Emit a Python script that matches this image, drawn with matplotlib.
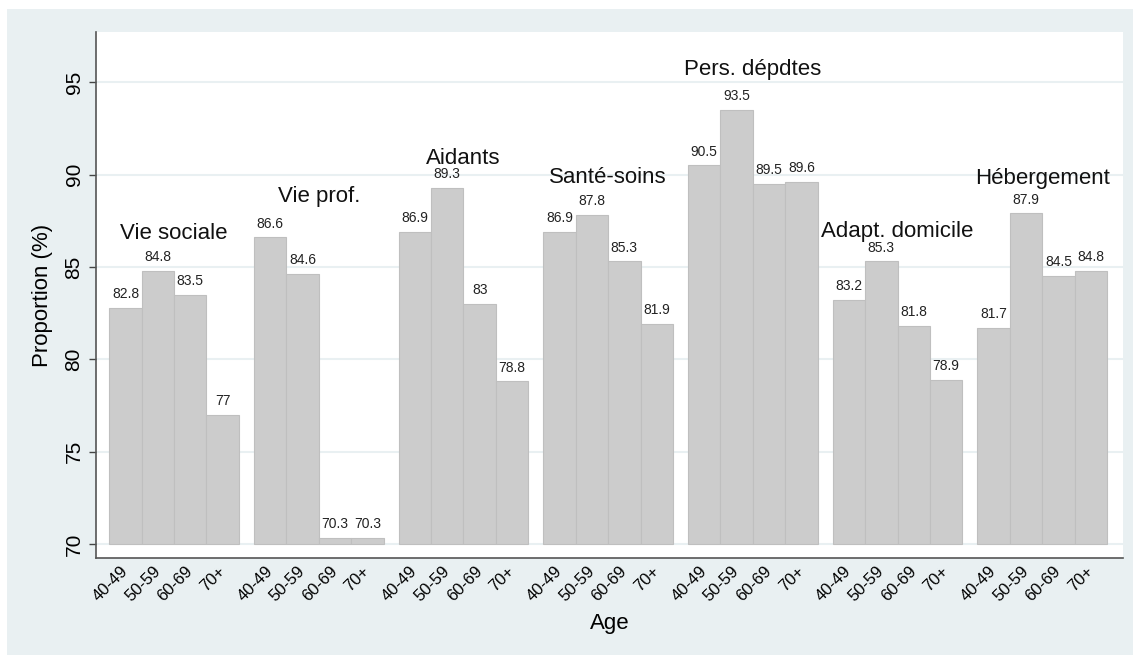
import numpy as np
import matplotlib
matplotlib.use('Agg')
import matplotlib.pyplot as plt
from matplotlib.patches import Rectangle

plt.rcParams['font.family'] = ['Liberation Sans', 'DejaVu Sans']

# données
domaines = ['Vie sociale', 'Vie prof.', 'Aidants', 'Santé-soins',
            'Pers. dépdtes', 'Adapt. domicile', 'Hébergement']
ages = ['40-49', '50-59', '60-69', '70+']
vie_sociale = [82.8, 84.8, 83.5, 77]
vie_prof = [86.6, 84.6, 70.3, 70.3]
aidants = [86.9, 89.3, 83, 78.8]
sante_soins = [86.9, 87.8, 85.3, 81.9]
pers_dep = [90.5, 93.5, 89.5, 89.6]
adapt_dom = [83.2, 85.3, 81.8, 78.9]
hebergement = [81.7, 87.9, 84.5, 84.8]
# hauteur des titres de groupe
label_y = [86.5, 88.5, 90.6, 89.55, 95.4, 86.65, 89.5]

series = [vie_sociale, vie_prof, aidants, sante_soins, pers_dep, adapt_dom, hebergement]

bg = '#e9f0f2'
bar_col = '#cccccc'
base = 70
stride = 4.466

fig = plt.figure(figsize=(11.33, 6.55), dpi=100, facecolor='white')
fig.patches.append(Rectangle((7 / 1133, 0), 1, 1 - 9 / 655, transform=fig.transFigure,
                             facecolor=bg, edgecolor='none', zorder=-10))

ax = fig.add_axes([96 / 1133, 97 / 655, 1027 / 1133, 526 / 655])
ax.set_facecolor('white')

centers = []
tick_labels = []
for g, vals in enumerate(series):
    x = g * stride + np.arange(len(vals)) + 0.5
    heights = np.array(vals) - base
    ax.bar(x, heights, width=1, bottom=base, color=bar_col,
           edgecolor='#bfbfbf', linewidth=0.8, zorder=3)
    for xi, v in zip(x, vals):
        ax.annotate('{:g}'.format(v), (xi, v), xytext=(0, 5), textcoords='offset points',
                    ha='center', va='bottom', fontsize=10, color='#222222', zorder=4)
    ax.text(x.mean(), label_y[g], domaines[g], ha='center', va='baseline',
            fontsize=16, color='#111111', zorder=5)
    centers.extend(x)
    tick_labels.extend(ages)

ax.set_xlim(-0.41, 31.29)
ax.set_ylim(69.24, 97.73)

ax.set_yticks([70, 75, 80, 85, 90, 95])
ax.set_yticklabels(['70', '75', '80', '85', '90', '95'], rotation=90, va='center', fontsize=15)
ax.yaxis.grid(True, color=bg, linewidth=1.5, zorder=0)
ax.set_axisbelow(True)

ax.set_xticks(centers)
ax.set_xticklabels(tick_labels, rotation=45, ha='right', va='center',
                   rotation_mode='anchor', fontsize=12)
ax.tick_params(axis='x', length=0, pad=8)
ax.tick_params(axis='y', length=5, width=1, color='#444444', pad=4)

for s in ['top', 'right']:
    ax.spines[s].set_visible(False)
for s in ['left', 'bottom']:
    ax.spines[s].set_color('#555555')
    ax.spines[s].set_linewidth(1.2)

ax.set_ylabel('Proportion (%)', fontsize=16, labelpad=8)
ax.set_xlabel('Age', fontsize=16, labelpad=6)

fig.savefig('out.png', dpi=100, facecolor=fig.get_facecolor())
